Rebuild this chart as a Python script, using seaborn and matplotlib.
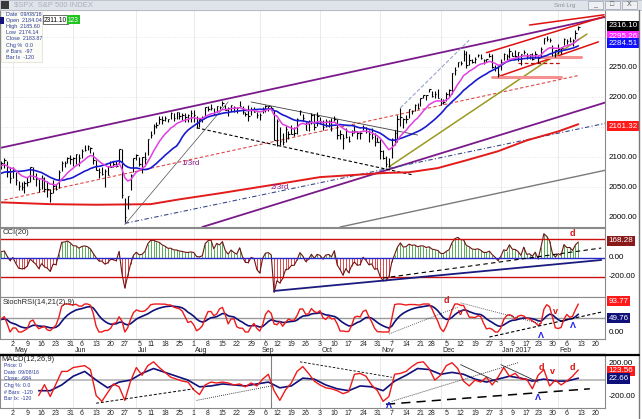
import numpy as np
import pandas as pd
import seaborn as sns
import matplotlib.pyplot as plt
from matplotlib.patches import Rectangle
from matplotlib.lines import Line2D
from matplotlib.transforms import blended_transform_factory as blend

sns.set_style("white")
plt.rcParams['font.family'] = ['Liberation Sans', 'DejaVu Sans']

# S&P 500 daily bars, 1 Mar 2016 .. 10 Feb 2017 (one row per month)
close = [
    1978, 1986, 1993, 1999, 2001, 1979, 1989, 1989, 2022, 2019, 2015, 2027, 2040, 2050, 2051, 2049, 2036, 2036, 2037, 2055, 2064, 2060,
    2073, 2067, 2045, 2066, 2041, 2048, 2041, 2062, 2082, 2083, 2080, 2094, 2101, 2103, 2091, 2092, 2088, 2091, 2095, 2076, 2065,
    2081, 2063, 2052, 2051, 2058, 2059, 2084, 2064, 2064, 2047, 2066, 2047, 2048, 2041, 2052, 2048, 2076, 2090, 2090, 2099, 2097,
    2099, 2105, 2099, 2110, 2112, 2119, 2116, 2096, 2079, 2075, 2072, 2077, 2071, 2083, 2088, 2086, 2113, 2037, 2001, 2036, 2071, 2099,
    2103, 2089, 2100, 2097, 2130, 2137, 2152, 2153, 2163, 2162, 2166, 2163, 2173, 2165, 2175, 2169, 2170, 2167, 2170, 2174,
    2171, 2157, 2164, 2164, 2183, 2181, 2182, 2175, 2186, 2184, 2191, 2179, 2182, 2187, 2184, 2182, 2186, 2176, 2172, 2169, 2180, 2176, 2171,
    2171, 2180, 2186, 2186, 2182, 2128, 2160, 2127, 2125, 2147, 2139, 2139, 2140, 2163, 2177, 2165, 2146, 2160, 2171, 2151, 2168,
    2161, 2150, 2160, 2160, 2153, 2164, 2137, 2139, 2132, 2133, 2127, 2140, 2144, 2141, 2141, 2151, 2143, 2139, 2133, 2126, 2126,
    2111, 2098, 2088, 2085, 2131, 2140, 2163, 2167, 2164, 2164, 2180, 2177, 2187, 2182, 2198, 2203, 2204, 2213, 2202, 2205, 2199,
    2191, 2192, 2205, 2212, 2241, 2246, 2259, 2256, 2272, 2253, 2262, 2258, 2263, 2270, 2265, 2261, 2264, 2269, 2250, 2249, 2239,
    2258, 2271, 2269, 2277, 2269, 2269, 2275, 2271, 2275, 2268, 2272, 2264, 2271, 2265, 2280, 2298, 2297, 2295, 2281, 2279,
    2280, 2281, 2297, 2293, 2293, 2295, 2307, 2316,
]
high = [
    1980, 1986, 1993, 2009, 2006, 1995, 1992, 2006, 2022, 2024, 2016, 2032, 2049, 2052, 2054, 2056, 2049, 2036, 2044, 2056, 2072, 2067,
    2074, 2074, 2062, 2066, 2063, 2060, 2058, 2065, 2083, 2087, 2083, 2094, 2104, 2111, 2104, 2096, 2092, 2093, 2099, 2094, 2083,
    2083, 2076, 2060, 2059, 2060, 2068, 2084, 2083, 2074, 2064, 2070, 2067, 2060, 2048, 2063, 2056, 2079, 2093, 2093, 2100, 2103,
    2100, 2105, 2106, 2113, 2120, 2120, 2117, 2109, 2095, 2082, 2084, 2080, 2085, 2094, 2094, 2093, 2113, 2113, 2032, 2036, 2073, 2099,
    2105, 2100, 2100, 2109, 2131, 2144, 2155, 2159, 2169, 2169, 2169, 2164, 2175, 2174, 2176, 2175, 2174, 2173, 2172, 2178,
    2178, 2168, 2164, 2168, 2183, 2185, 2188, 2182, 2186, 2186, 2194, 2187, 2183, 2187, 2185, 2184, 2194, 2186, 2176, 2187, 2183, 2183, 2176,
    2174, 2184, 2187, 2186, 2185, 2179, 2163, 2150, 2141, 2152, 2143, 2153, 2150, 2165, 2179, 2172, 2158, 2162, 2173, 2172, 2175,
    2167, 2162, 2163, 2162, 2165, 2169, 2164, 2146, 2139, 2149, 2136, 2145, 2153, 2144, 2143, 2154, 2151, 2146, 2148, 2140, 2133,
    2131, 2112, 2102, 2099, 2132, 2146, 2170, 2182, 2166, 2171, 2180, 2179, 2189, 2190, 2198, 2204, 2204, 2214, 2211, 2210, 2214,
    2198, 2197, 2209, 2213, 2241, 2250, 2259, 2260, 2278, 2277, 2272, 2263, 2266, 2272, 2272, 2263, 2264, 2273, 2271, 2254, 2252,
    2264, 2273, 2272, 2282, 2275, 2279, 2275, 2272, 2279, 2273, 2272, 2274, 2277, 2270, 2284, 2299, 2301, 2299, 2286, 2279,
    2289, 2283, 2298, 2296, 2300, 2296, 2311, 2319,
]
low = [
    1937, 1972, 1980, 1993, 1990, 1979, 1980, 1969, 2001, 2012, 2005, 2010, 2026, 2041, 2042, 2041, 2035, 2023, 2035, 2033, 2055, 2057,
    2041, 2062, 2042, 2048, 2039, 2044, 2039, 2041, 2064, 2079, 2074, 2073, 2088, 2093, 2089, 2084, 2075, 2081, 2082, 2067, 2058,
    2066, 2054, 2045, 2045, 2040, 2053, 2059, 2064, 2053, 2043, 2047, 2043, 2034, 2025, 2041, 2046, 2049, 2077, 2084, 2090, 2088,
    2086, 2089, 2086, 2098, 2110, 2112, 2107, 2089, 2078, 2065, 2070, 2050, 2071, 2083, 2083, 2084, 2089, 2032, 1992, 2014, 2045, 2075,
    2095, 2085, 2074, 2089, 2104, 2132, 2139, 2149, 2156, 2155, 2160, 2159, 2164, 2160, 2164, 2163, 2162, 2159, 2159, 2159,
    2159, 2149, 2151, 2159, 2168, 2177, 2179, 2171, 2176, 2180, 2186, 2178, 2168, 2177, 2175, 2173, 2186, 2172, 2168, 2160, 2171, 2175, 2165,
    2162, 2173, 2175, 2177, 2178, 2128, 2119, 2120, 2120, 2125, 2131, 2139, 2135, 2139, 2170, 2160, 2145, 2143, 2156, 2145, 2152,
    2156, 2145, 2151, 2150, 2144, 2160, 2130, 2131, 2114, 2132, 2125, 2135, 2140, 2131, 2131, 2146, 2141, 2126, 2131, 2119, 2125,
    2097, 2097, 2084, 2083, 2098, 2120, 2125, 2152, 2149, 2157, 2166, 2172, 2177, 2180, 2186, 2199, 2195, 2208, 2200, 2199, 2198,
    2187, 2188, 2193, 2200, 2206, 2237, 2250, 2253, 2260, 2249, 2254, 2256, 2257, 2266, 2264, 2255, 2258, 2266, 2249, 2244, 2234,
    2245, 2262, 2261, 2265, 2268, 2266, 2260, 2254, 2272, 2263, 2263, 2262, 2265, 2257, 2267, 2288, 2294, 2292, 2268, 2267,
    2271, 2272, 2287, 2288, 2292, 2285, 2297, 2311,
]
holidays = ["2016-03-25", "2016-05-30", "2016-07-04", "2016-09-05", "2016-11-24",
            "2016-12-26", "2017-01-02", "2017-01-16"]

# 200-day average (the red curve)
ma200_dates = ["2016-04-26", "2016-05-19", "2016-06-13", "2016-07-11", "2016-07-25", "2016-08-12",
               "2016-09-13", "2016-10-03", "2016-11-03", "2016-11-15", "2016-11-30", "2016-12-14",
               "2016-12-30", "2017-01-17", "2017-02-01", "2017-02-10"]
ma200_vals = [2025, 2022, 2021, 2022, 2030, 2040, 2056, 2067, 2074, 2075, 2082, 2095, 2110, 2128, 2143, 2155]

# lower MACD(12,26,9) pane (other symbol)
macd_start = "2016-05-13"
macd_red = [-188, -55, -200, -47, 106, 106, 153, 165, 176, 129,
            -188, -259, -153, -47, -82, -247, -12, 153, 59, 176,
            223, 153, 94, 35, 12, -12, -24, -118, -176, -59,
            -24, -35, -24, -35, -59, -47, -82, -35, -71, 12,
            71, -129, -247, -118, -35, 106, 165, 82, -12, -59,
            -94, -106, -129, -165, -141, 71, 82, 47, -59, -129,
            -259, -200, 71, 82, 106, 165, 212, 223, 141, 0,
            59, 176, 212, 141, -12, -71, 0, -24, 35, -59,
            35, 153, 47, 82, 12, 12, -106, 59, 129, -71,
            0, -59, -12, 47, 124]  # every 2nd session
macd_navy = [-129, -129, -59, 47, 106, 0, -94, -24, 0, 82,
             141, 94, 47, 0, -82, -71, -47, -59, -71, -47,
             -24, -94, -71, 24, 12, -59, -106, -129, -71, -82,
             -129, -12, 59, 141, 129, 71, 94, 71, 12, -24,
             12, 47, 24, -12, 12, -12, -12, 23]  # every 4th session

# hand-drawn trend lines (date, price)
upper_purple = [("2016-04-26", 2116), ("2017-02-24", 2334)]
lower_purple = [("2016-08-04", 1984), ("2017-02-24", 2192)]
third_1 = [("2016-04-27", 2029), ("2017-02-10", 2236)]
third_2 = [("2016-06-27", 1990), ("2017-02-24", 2157)]
base_gray = [("2016-10-12", 1984), ("2017-02-24", 2079)]
wedge_low = [("2016-08-02", 2149), ("2016-11-16", 2071)]
wedge_top = [("2016-08-29", 2192), ("2016-11-18", 2137)]
brexit_up = [("2016-06-27", 1988), ("2016-08-17", 2192)]
olive_up = [("2016-11-04", 2084), ("2017-02-15", 2305)]
rally_top = [("2016-11-10", 2182), ("2016-12-15", 2295)]
chan_hi = [("2016-12-23", 2274), ("2017-02-23", 2334)]
chan_top = [("2017-01-18", 2320), ("2017-02-23", 2337)]
chan_lo = [("2016-12-30", 2234), ("2017-02-21", 2292)]
support_a = [("2016-12-28", 2234), ("2017-02-02", 2234)]
support_b = [("2017-01-24", 2267), ("2017-02-13", 2267)]
support_c = [("2017-01-11", 2257), ("2017-02-02", 2257)]
cci_navy = [("2016-09-09", -347), ("2017-02-22", -21)]
cci_dash = [("2016-11-02", -211), ("2017-02-22", 105)]
st_rise = [("2016-11-04", -7), ("2016-12-09", 89)]
st_fall = [("2016-12-12", 104), ("2017-01-24", 29)]
st_base = [("2016-12-27", -18), ("2017-02-22", 71)]
m_a = [("2016-06-13", -282), ("2016-08-01", -106)]
m_b = [("2016-08-02", -247), ("2016-09-08", -71)]
m_c = [("2016-09-22", 223), ("2016-11-07", 35)]
m_d = [("2016-11-03", -294), ("2017-02-16", -106)]
m_e = [("2016-11-07", -259), ("2017-01-11", 212)]
m_f = [("2016-12-12", 188), ("2016-12-30", -24)]
m_g = [("2017-01-03", 188), ("2017-01-23", -24)]

sessions = pd.bdate_range("2016-03-01", "2017-02-24")
sessions = sessions[~sessions.isin(pd.to_datetime(holidays))]
n = len(close)
assert n == len(high) == len(low) == 241


def at(d):
    return sessions.get_loc(pd.Timestamp(d))


df = pd.DataFrame({'close': close, 'high': high, 'low': low}, dtype=float)
df['x'] = np.arange(n)
df['ema10'] = df.close.ewm(span=10, adjust=False).mean()
df['sma20'] = df.close.rolling(20).mean()
tp = (df.high + df.low + df.close) / 3
md = tp.rolling(20).apply(lambda w: np.abs(w - w.mean()).mean(), raw=True)
df['cci'] = (tp - tp.rolling(20).mean()) / (0.015 * md)
delta = df.close.diff()
up = delta.clip(lower=0).ewm(alpha=1 / 14, adjust=False).mean()
dn = (-delta.clip(upper=0)).ewm(alpha=1 / 14, adjust=False).mean()
rsi = 100 - 100 / (1 + up / dn)
lo, hi = rsi.rolling(14).min(), rsi.rolling(14).max()
df['srsi'] = ((rsi - lo) / (hi - lo) * 100).rolling(2).mean()
df['srsi_sig'] = df.srsi.ewm(span=9, adjust=False).mean()

W, H = 642, 419
fig = plt.figure(figsize=(W / 100, H / 100), dpi=100)
fig.patch.set_facecolor('white')


def box(x0, y0, x1, y1):
    return [x0 / W, 1 - y1 / H, (x1 - x0) / W, (y1 - y0) / H]


ax = fig.add_axes(box(0, 10, 605, 227))
ax_cci = fig.add_axes(box(0, 228, 605, 297), sharex=ax)
ax_st = fig.add_axes(box(0, 297, 605, 339), sharex=ax)
ax_m = fig.add_axes(box(0, 355, 605, 408), sharex=ax)
axes = [ax, ax_cci, ax_st, ax_m]


def seg(axis, pts, **kw):
    (d0, v0), (d1, v1) = pts
    axis.plot([at(d0), at(d1)], [v0, v1], **kw)


def side_label(axis, y, text, fc=None):
    kw = dict(fontsize=5.8, va='center', ha='left', clip_on=False,
              transform=blend(axis.transAxes, axis.transData))
    if fc:
        axis.text(1.006, y, text, color='white',
                  bbox=dict(boxstyle='square,pad=0.2', fc=fc, ec='none'), **kw)
    else:
        axis.text(1.006, y, text, color='black', **kw)


def mark(axis, d, y, s, color):
    axis.text(at(d), y, s, color=color, fontsize=6.5, fontweight='bold',
              ha='center', va='center')


week_first = [i for i in range(1, len(sessions))
              if sessions[i].isocalendar().week != sessions[i - 1].isocalendar().week]
month_first = [i for i in range(1, len(sessions)) if sessions[i].month != sessions[i - 1].month]

for a in axes:
    for i in month_first:
        a.axvline(i, color='#e6e6e6', lw=0.6, zorder=0)

# ---- price pane
for lvl in [2050, 2100, 2150, 2200, 2250, 2300]:
    ax.axhline(lvl, color='#e0e0e0', lw=0.6, ls=':', zorder=0)
seg(ax, upper_purple, color='#7a1a8a', lw=1.3)
seg(ax, lower_purple, color='#7a1a8a', lw=1.3)
seg(ax, third_1, color='#e04848', lw=0.8, ls=(0, (3, 2)))
seg(ax, third_2, color='#3a4a8a', lw=0.8, ls=(0, (4, 2, 1, 2)))
seg(ax, base_gray, color='#7a7a7a', lw=1.0)
seg(ax, wedge_low, color='black', lw=0.8, ls=(0, (3, 2)))
seg(ax, wedge_top, color='#404040', lw=0.6)
seg(ax, brexit_up, color='#505050', lw=0.5)
seg(ax, olive_up, color='#9a9a20', lw=1.1)
seg(ax, rally_top, color='#8898c8', lw=0.7, ls=(0, (4, 2)))
seg(ax, chan_hi, color='#e01010', lw=1.1)
seg(ax, chan_top, color='#e01010', lw=1.1)
seg(ax, chan_lo, color='#e01010', lw=1.1)
seg(ax, support_a, color='#f59090', lw=2.2)
seg(ax, support_b, color='#f59090', lw=2.2)
seg(ax, support_c, color='#c01010', lw=0.9, ls=(0, (3, 2)))
sns.lineplot(x=[at(d) for d in ma200_dates], y=ma200_vals, ax=ax, color='#e21b1b', lw=1.4)
ax.vlines(df.x, df.low, df.high, color='black', lw=0.8)
ax.hlines(df.close, df.x, df.x + 0.5, color='black', lw=0.8)
sns.lineplot(data=df, x='x', y='sma20', ax=ax, color='#1a1ad0', lw=1.2)
sns.lineplot(data=df, x='x', y='ema10', ax=ax, color='#e23fe2', lw=1.1)
ax.text(at("2016-07-29"), 2090, "1/3rd", color='#8a1a8a', fontsize=5.8, ha='center', va='center')
ax.text(at("2016-09-13"), 2050, "2/3rd", color='#8a1a8a', fontsize=5.8, ha='center', va='center')
ax.set_ylim(1984, 2345)
for v in [2250, 2200, 2100, 2050, 2000]:
    side_label(ax, v, f"{v:.2f}")
side_label(ax, 2319, "2316.10", '#000000')
side_label(ax, 2301, "2295.26", '#ff2cff')
side_label(ax, 2290, "2284.51", '#1010ff')
side_label(ax, 2152, "2161.32", '#ff1a1a')

# ---- CCI pane
cc = df.dropna(subset=['cci'])
ax_cci.vlines(cc.x, 0, cc.cci, colors=np.where(cc.cci >= 0, '#3c9c3c', '#d42a2a'), lw=0.6)
sns.lineplot(data=cc, x='x', y='cci', ax=ax_cci, color='#6e1414', lw=0.8)
ax_cci.axhline(200, color='#cc1010', lw=1)
ax_cci.axhline(-200, color='#cc1010', lw=1)
ax_cci.axhline(0, color='#2828c8', lw=1)
seg(ax_cci, cci_navy, color='#1a1a80', lw=1.3)
seg(ax_cci, cci_dash, color='black', lw=0.8, ls=(0, (4, 3)))
mark(ax_cci, "2017-02-08", 253, "d", '#dd1010')
ax_cci.set_ylim(-411, 316)
side_label(ax_cci, 182, "168.28", '#8a1a1a')
side_label(ax_cci, 0, "0.00")
side_label(ax_cci, -197, "-200.00")
ax_cci.text(0.005, 0.93, "CCI(20)", transform=ax_cci.transAxes, fontsize=5.5, va='center')

# ---- StochRSI pane
ax_st.axhline(50, color='#9a9a9a', lw=1)
sns.lineplot(data=df, x='x', y='srsi_sig', ax=ax_st, color='#10107a', lw=1.2)
sns.lineplot(data=df, x='x', y='srsi', ax=ax_st, color='#ee1a1a', lw=1.0)
seg(ax_st, st_rise, color='#303030', lw=0.6, ls=(0, (1, 1.5)))
seg(ax_st, st_fall, color='#303030', lw=0.6, ls=(0, (1, 1.5)))
seg(ax_st, st_base, color='black', lw=0.8, ls=(0, (3, 2)))
mark(ax_st, "2016-12-05", 114, "d", '#dd1010')
mark(ax_st, "2016-12-12", 71, "v", '#dd1010')
mark(ax_st, "2017-01-31", 75, "v", '#dd1010')
mark(ax_st, "2017-01-24", -11, "Λ", '#1a1aee')
mark(ax_st, "2017-02-08", 25, "Λ", '#1a1aee')
ax_st.set_ylim(-25, 125)
side_label(ax_st, 110, "93.77", '#ff1a1a')
side_label(ax_st, 49, "49.76", '#10107a')
side_label(ax_st, -1, "0.00")
ax_st.text(0.005, 0.88, "StochRSI(14,21(2),9)", transform=ax_st.transAxes, fontsize=5.5, va='center')

# ---- MACD pane
s0 = at(macd_start)
ax_m.axhline(0, color='#b4b4b4', lw=1.2)
ax_m.axvline(at("2016-09-08"), color='#808080', lw=0.8)
sns.lineplot(x=np.arange(s0, s0 + 4 * len(macd_navy), 4), y=macd_navy, ax=ax_m, color='#10107a', lw=1.2)
sns.lineplot(x=np.arange(s0, s0 + 2 * len(macd_red), 2), y=macd_red, ax=ax_m, color='#ee1a1a', lw=1.0)
seg(ax_m, m_a, color='black', lw=0.7, ls=(0, (3, 2)))
seg(ax_m, m_b, color='black', lw=0.6, ls=(0, (1, 1.5)))
seg(ax_m, m_c, color='black', lw=0.6, ls=(0, (3, 2)))
seg(ax_m, m_d, color='black', lw=1.1, ls=(0, (6, 4)))
seg(ax_m, m_e, color='black', lw=0.6, ls=(0, (1, 1.5)))
seg(ax_m, m_f, color='#303030', lw=0.6)
seg(ax_m, m_g, color='#303030', lw=0.6)
mark(ax_m, "2017-01-24", 153, "d", '#dd1010')
mark(ax_m, "2017-01-30", 106, "v", '#dd1010')
mark(ax_m, "2017-02-08", 153, "d", '#dd1010')
mark(ax_m, "2016-11-04", -306, "Λ", '#1a1aee')
mark(ax_m, "2017-01-23", -212, "Λ", '#1a1aee')
ax_m.set_ylim(-340, 306)
side_label(ax_m, 200, "200.00")
side_label(ax_m, 112, "123.56", '#ff1a1a')
side_label(ax_m, 20, "22.66", '#10107a')
side_label(ax_m, -200, "-200.00")
ax_m.text(0.003, 0.92, "MACD(12,26,9)", transform=ax_m.transAxes, fontsize=5.5, va='center')
for k, s in enumerate(["Price: 0", "Date: 09/08/16", "Close: -684", "Chg %: 0.0",
                       "# Bars: -120", "Bar Ix: -120"]):
    ax_m.text(0.007, 0.80 - k * 0.125, s, transform=ax_m.transAxes, fontsize=3.8,
              color='#2a3a9a', va='center')

# ---- shared x axis
ax.set_xlim(38.5, 249.3)
ticks = [i for i in week_first if 38.5 < i < 249.3]
for a in axes:
    a.set_yticks([])
    a.set_xlabel('')
    a.set_ylabel('')
    for sp in a.spines.values():
        sp.set_color('#8a8a8a')
        sp.set_linewidth(0.8)
ax.set_xticks(ticks)
ax.set_xticklabels([str(sessions[i].day) for i in ticks])
for a in [ax, ax_cci]:
    a.tick_params(axis='x', bottom=False, labelbottom=False)
for a in [ax_st, ax_m]:
    a.tick_params(axis='x', labelbottom=True, bottom=True, length=1.2, pad=0.2,
                  labelsize=5.0, width=0.5, color='#8a8a8a')
# month names under the middle date row
bb = ax_st.get_position()
yoff = ((1 - 350.5 / H) - bb.y0) / bb.height
for i in month_first:
    if 38.5 < i < 249.3:
        lab = "Jan 2017" if sessions[i].month == 1 else sessions[i].strftime('%b')
        ax_st.text(i + 0.5, yoff, lab, transform=blend(ax_st.transData, ax_st.transAxes),
                   fontsize=5.0, ha='left', va='center', clip_on=False)
ax_m.spines['top'].set_color('black')
ax_m.spines['top'].set_linewidth(1.6)

# ---- window chrome and cursor readouts
fig.patches.append(Rectangle((0, 1 - 10 / H), 1, 10 / H, transform=fig.transFigure,
                             fc='#dfe3ea', ec='#b8bec8', lw=0.6))
fig.patches.append(Rectangle((1 / W, 1 - 9 / H), 8 / W, 8 / H, transform=fig.transFigure,
                             fc='#3a3a3a', ec='none'))
fig.text(14 / W, 1 - 5 / H, r"\$SPX  S&P 500 INDEX", fontsize=5.5, color='#a9b0bd', va='center')
for bx, sym in [(588, "_"), (605, "□"), (622, "X")]:
    fig.patches.append(Rectangle((bx / W, 1 - 9 / H), 15 / W, 8 / H, transform=fig.transFigure,
                                 fc='#eef0f4', ec='#9aa0aa', lw=0.5))
    fig.text((bx + 7.5) / W, 1 - 5 / H, sym, fontsize=5, color='#555555', ha='center', va='center')
fig.text(554 / W, 1 - 5 / H, "Sml Lrg", fontsize=4.5, color='#8a909a', va='center')
fig.add_artist(Line2D([639 / W, 639 / W], [0, 1 - 10 / H], transform=fig.transFigure,
                      color='#7a7a7a', lw=1))
fig.add_artist(Line2D([0, 639 / W], [1 - 354.5 / H, 1 - 354.5 / H], transform=fig.transFigure,
                      color='black', lw=1.6))

fig.patches.append(Rectangle((1 / W, 1 - 62 / H), 41 / W, 50 / H, transform=fig.transFigure,
                             fc='#fcfcf6', ec='#dcdcd0', lw=0.5, zorder=5))
fig.patches.append(Rectangle((0, 1 - 24 / H), 4 / W, 7 / H, transform=fig.transFigure,
                             fc='#14147a', ec='none', zorder=6))
for k, s in enumerate(["Date  09/08/16", "Open  2184.04", "High  2185.60", "Low  2174.14",
                       "Close  2183.87", "Chg %  0.0", "# Bars  -97", "Bar Ix  -120"]):
    fig.text(6 / W, 1 - (14.5 + k * 6.1) / H, s, fontsize=3.9, color='#2a3a9a', va='center', zorder=7)
fig.text(44 / W, 1 - 20 / H, "2311.10", fontsize=4.8, color='black', va='center', zorder=7,
         bbox=dict(boxstyle='square,pad=0.15', fc='white', ec='#333333', lw=0.5))
fig.text(68 / W, 1 - 20 / H, "123", fontsize=4.8, color='white', va='center', zorder=7,
         bbox=dict(boxstyle='square,pad=0.15', fc='#1fc41f', ec='none'))

fig.savefig('out.png', dpi=100)
